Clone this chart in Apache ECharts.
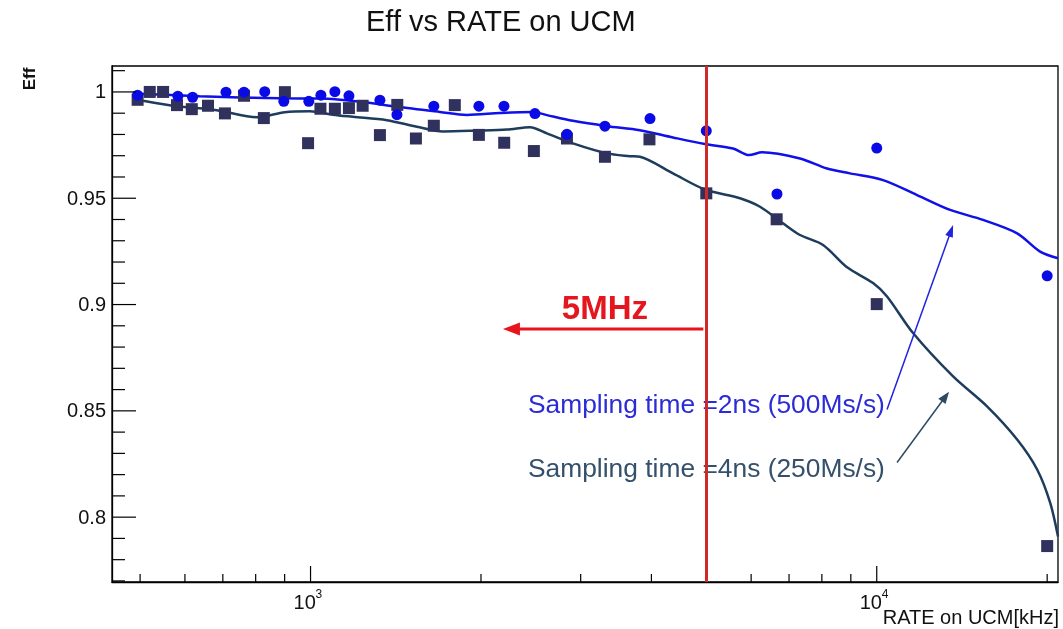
<!DOCTYPE html>
<html><head><meta charset="utf-8">
<script src="https://cdn.jsdelivr.net/npm/echarts@6/dist/echarts.min.js"></script>
<style>html,body{margin:0;padding:0;background:#fff}#c{width:1063px;height:629px}</style>
</head><body><div id="c"></div>
<script>
// ---- data (RATE on UCM in kHz, efficiency) ----
const circlesX = [495, 583, 619, 709, 763, 830, 897, 993, 1043, 1104, 1169, 1326, 1421, 1651, 1983, 2196, 2491, 2837, 3311, 3977, 5000, 6665, 10000, 20000];
const circlesY = [0.9985, 0.998, 0.9975, 0.9999, 0.9999, 1.0001, 0.9956, 0.9956, 0.9985, 1.0001, 0.9982, 0.9961, 0.9893, 0.9933, 0.9933, 0.9933, 0.9898, 0.9801, 0.9839, 0.9875, 0.9817, 0.952, 0.9736, 0.9135];

const squaresX = [495, 520, 549, 581, 617, 659, 706, 763, 827, 901, 990, 1041, 1104, 1169, 1236, 1326, 1423, 1535, 1651, 1798, 1983, 2198, 2480, 2837, 3311, 3968, 5000, 6656, 10000, 20000];
const squaresY = [0.9963, 1.0, 1.0, 0.9938, 0.9919, 0.9935, 0.9899, 0.9982, 0.9877, 0.9999, 0.9759, 0.9921, 0.9921, 0.9924, 0.9935, 0.9797, 0.9939, 0.9781, 0.9841, 0.9938, 0.9798, 0.9761, 0.9722, 0.9781, 0.9695, 0.9777, 0.9523, 0.9401, 0.9002, 0.7864];

const line2nsX = [485, 637, 883, 1039, 1237, 1421, 1692, 1889, 2161, 2471, 2615, 2907, 3338, 3817, 4366, 4974, 5574, 5950, 6273, 7319, 8170, 8971, 10259, 11782, 13477, 15410, 17700, 19435, 20900];
const line2nsY = [0.9993, 0.998, 0.997, 0.9969, 0.9953, 0.993, 0.9906, 0.9892, 0.9901, 0.9906, 0.9891, 0.9864, 0.9839, 0.982, 0.9786, 0.9755, 0.9734, 0.9703, 0.9716, 0.9687, 0.964, 0.9617, 0.9585, 0.9515, 0.9445, 0.9398, 0.9335, 0.9249, 0.9218];

const line4nsX = [506, 581, 683, 804, 901, 997, 1095, 1188, 1364, 1541, 1713, 1967, 2223, 2441, 2615, 2907, 3338, 3665, 3817, 4366, 4974, 5735, 6221, 6830, 7319, 8039, 8864, 9851, 10428, 11591, 13642, 15660, 17700, 19200, 20242, 20900];
const line4nsY = [0.9959, 0.9933, 0.9914, 0.9881, 0.9905, 0.9909, 0.9893, 0.9883, 0.9867, 0.9836, 0.9814, 0.9818, 0.9823, 0.9834, 0.9805, 0.9758, 0.9711, 0.9698, 0.9695, 0.9617, 0.9541, 0.95, 0.946, 0.9382, 0.9327, 0.928, 0.9175, 0.9101, 0.9038, 0.8866, 0.8662, 0.8521, 0.8365, 0.8224, 0.8068, 0.7909];

const xMajorTicks = [1000, 10000];
const xMinorTicks = [500, 600, 700, 800, 900, 2000, 3000, 4000, 5000, 6000, 7000, 8000, 9000, 20000];
const yMajorTicks = [0.8, 0.85, 0.9, 0.95, 1.0];
const yMinorTicks = [0.77, 0.78, 0.79, 0.81, 0.82, 0.83, 0.84, 0.86, 0.87, 0.88, 0.89, 0.91, 0.92, 0.93, 0.94, 0.96, 0.97, 0.98, 0.99, 1.01];
const yTickLabels = ['0.8', '0.85', '0.9', '0.95', '1'];

const X_MIN = 446, X_MAX = 20900, Y_MIN = 0.7695, Y_MAX = 1.0122;
const RATE_5MHZ = 5000;

// annotation anchors in data space
const ARROW_RED = [[4940, 0.8885], [2187, 0.8885]];
const ARROW_2NS = [[10428, 0.8506], [13642, 0.9374]];
const ARROW_4NS = [[10862, 0.8257], [13418, 0.8590]];
const LABEL_5MHZ = [3311, 0.8975];
const LABEL_2NS = [2421, 0.8520];
const LABEL_4NS = [2421, 0.8220];

const FONT = '"Liberation Sans", Arial, Helvetica, sans-serif';
const pairs = (xs, ys) => xs.map((x, i) => [x, ys[i]]);

function tickSeries(values, isX, len, labels) {
  return {
    type: 'custom', clip: false, silent: true, z: 6,
    data: values.map(v => isX ? [v, Y_MIN] : [X_MIN, v]),
    renderItem: (params, api) => {
      const pt = api.coord([api.value(0), api.value(1)]);
      const ch = [];
      if (isX) {
        ch.push({type: 'line', shape: {x1: pt[0], y1: pt[1], x2: pt[0], y2: pt[1] - len}, style: {stroke: '#000', lineWidth: 1.2}});
        if (labels) {
          const exp = String(Math.round(Math.log10(api.value(0))));
          ch.push({type: 'text', x: pt[0] - 17, y: pt[1] + 21, style: {text: '10', font: '20px ' + FONT, fill: '#111', align: 'left', textAlign: 'left', verticalAlign: 'middle', textVerticalAlign: 'middle'}});
          ch.push({type: 'text', x: pt[0] + 5, y: pt[1] + 13, style: {text: exp, font: '12px ' + FONT, fill: '#111', align: 'left', textAlign: 'left', verticalAlign: 'middle', textVerticalAlign: 'middle'}});
        }
      } else {
        ch.push({type: 'line', shape: {x1: pt[0], y1: pt[1], x2: pt[0] + len, y2: pt[1]}, style: {stroke: '#000', lineWidth: 1.2}});
        if (labels) {
          ch.push({type: 'text', x: pt[0] - 6, y: pt[1] + 1, style: {text: labels[params.dataIndex], font: '20px ' + FONT, fill: '#111', align: 'right', textAlign: 'right', verticalAlign: 'middle', textVerticalAlign: 'middle'}});
        }
      }
      return {type: 'group', children: ch};
    }
  };
}

const chart = echarts.init(document.getElementById('c'), null, {renderer: 'canvas'});
const option = {
  animation: false,
  backgroundColor: '#fff',
  title: {text: 'Eff vs RATE on UCM', left: 366, top: 8, padding: 0,
    textStyle: {fontFamily: FONT, fontSize: 29, fontWeight: 'normal', color: '#111'}},
  grid: {left: 112, right: 5, top: 66, bottom: 47, show: true, borderColor: '#000', borderWidth: 1.3, backgroundColor: '#fff'},
  xAxis: {type: 'log', logBase: 10, min: X_MIN, max: X_MAX,
    axisLine: {show: true, lineStyle: {color: '#000', width: 1.3}}, axisTick: {show: false}, axisLabel: {show: false}, splitLine: {show: false}},
  yAxis: {type: 'value', min: Y_MIN, max: Y_MAX,
    axisLine: {show: true, lineStyle: {color: '#000', width: 1.3}}, axisTick: {show: false}, axisLabel: {show: false}, splitLine: {show: false}},
  series: [
    {name: '2ns line', type: 'line', data: pairs(line2nsX, line2nsY), smooth: 0.3, showSymbol: false, silent: true,
      lineStyle: {color: '#1010e8', width: 2.5}, z: 3},
    {name: '4ns line', type: 'line', data: pairs(line4nsX, line4nsY), smooth: 0.3, showSymbol: false, silent: true,
      lineStyle: {color: '#1e3d5c', width: 2.5}, z: 3},
    {name: '4ns', type: 'scatter', data: pairs(squaresX, squaresY), symbol: 'rect', symbolSize: 12,
      itemStyle: {color: '#31315e', opacity: 1}, z: 4},
    {name: '2ns', type: 'scatter', data: pairs(circlesX, circlesY), symbol: 'circle', symbolSize: 11,
      itemStyle: {color: '#0a0ae6', opacity: 1}, z: 4,
      markLine: {silent: true, symbol: ['none', 'none'], label: {show: false}, z: 8,
        lineStyle: {color: '#cf2a27', width: 3, type: 'solid'}, data: [{xAxis: RATE_5MHZ}]}},
    tickSeries(xMajorTicks, true, 16, true),
    tickSeries(xMinorTicks, true, 8, null),
    tickSeries(yMajorTicks, false, 24, yTickLabels),
    tickSeries(yMinorTicks, false, 13, null)
  ]
};
chart.setOption(option);

const P = d => chart.convertToPixel({gridIndex: 0}, d);
function arrow(seg, color, lw, headLen, headW) {
  const a = P(seg[0]), b = P(seg[1]);
  const dx = b[0] - a[0], dy = b[1] - a[1], L = Math.hypot(dx, dy), ux = dx / L, uy = dy / L;
  const bx = b[0] - ux * headLen, by = b[1] - uy * headLen, nx = -uy, ny = ux;
  return [
    {type: 'line', z: 10, shape: {x1: a[0], y1: a[1], x2: bx + ux * 2, y2: by + uy * 2}, style: {stroke: color, lineWidth: lw}},
    {type: 'polygon', z: 10, shape: {points: [[b[0], b[1]], [bx + nx * headW / 2, by + ny * headW / 2], [bx - nx * headW / 2, by - ny * headW / 2]]}, style: {fill: color}}
  ];
}
function label(pos, text, color, size, weight, align, sx) {
  const p = P(pos);
  return {type: 'text', x: p[0], y: p[1], scaleX: sx, z: 1,
    style: {text: text, fill: color, font: weight + ' ' + size + 'px ' + FONT, align: align, textAlign: align, verticalAlign: 'middle', textVerticalAlign: 'middle'}};
}
const g = [];
g.push(...arrow(ARROW_RED, '#e8141c', 3, 17, 13));
g.push(...arrow(ARROW_2NS, '#2222e0', 1.5, 12, 8));
g.push(...arrow(ARROW_4NS, '#2d4a62', 1.5, 12, 9));
g.push(label(LABEL_5MHZ, '5MHz', '#e3171d', 33, 'bold', 'center', 1));
g.push(label(LABEL_2NS, 'Sampling time =2ns (500Ms/s)', '#2b2bd8', 25, 'normal', 'left', 1.055));
g.push(label(LABEL_4NS, 'Sampling time =4ns (250Ms/s)', '#34506a', 25, 'normal', 'left', 1.055));
g.push({type: 'text', x: 30, y: 79, rotation: Math.PI / 2, z: 1,
  style: {text: 'Eff', fill: '#111', font: 'bold 17px ' + FONT, align: 'center', textAlign: 'center', verticalAlign: 'middle', textVerticalAlign: 'middle'}});
g.push({type: 'text', x: 1059, y: 618, z: 1,
  style: {text: 'RATE on UCM[kHz]', fill: '#111', font: '20px ' + FONT, align: 'right', textAlign: 'right', verticalAlign: 'middle', textVerticalAlign: 'middle'}});
chart.setOption({graphic: g});
</script>
</body></html>
